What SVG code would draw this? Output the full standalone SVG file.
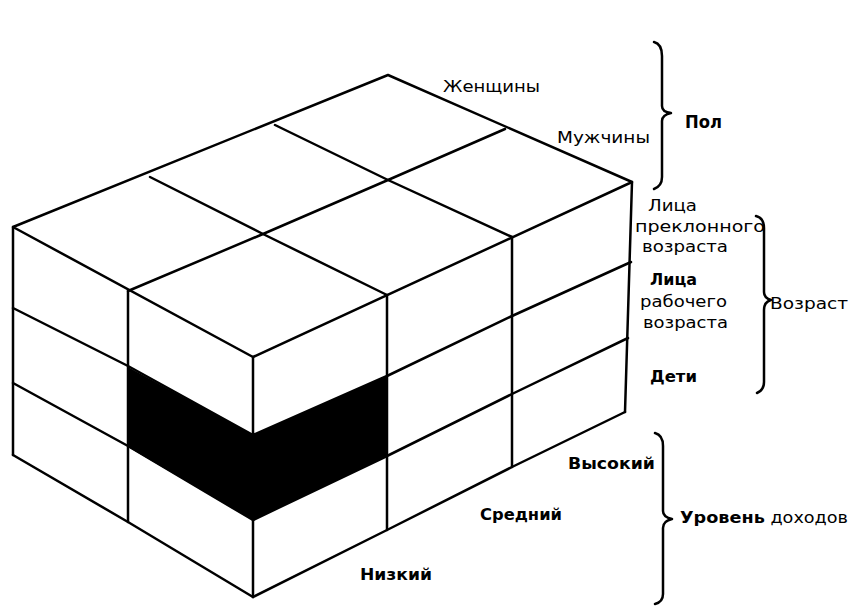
<svg xmlns="http://www.w3.org/2000/svg" width="849" height="606" viewBox="0 0 849 606">
<style>
.ln{fill:none;stroke:#000;stroke-width:2.5;stroke-linejoin:round;stroke-linecap:round}
.br{fill:none;stroke:#000;stroke-width:2.5;stroke-linejoin:round;stroke-linecap:round}
.t{font-family:"DejaVu Sans","Liberation Sans",sans-serif;font-size:15px;fill:#000}
.b{font-weight:bold}
</style>
<rect width="849" height="606" fill="#fff"/>
<g id="cube">
  <polygon points="128,367 253,435 387,376 387,456 253,520 128,447" fill="#000"/>
  <!-- top face -->
  <polygon class="ln" points="13,227 388,75 632,182 253,357"/>
  <polyline class="ln" points="150,177 263,234 387,295"/>
  <polyline class="ln" points="275,125 388,180 512,237"/>
  <polyline class="ln" points="128,291 263,234 388,180 505,129"/>
  <!-- front-left face -->
  <line class="ln" x1="13" y1="227" x2="13" y2="455"/>
  <line class="ln" x1="128" y1="291" x2="128" y2="522"/>
  <line class="ln" x1="253" y1="357" x2="253" y2="597"/>
  <polyline class="ln" points="13,308 128,366 253,435"/>
  <polyline class="ln" points="13,383 128,446 253,520"/>
  <polyline class="ln" points="13,455 128,522 253,597"/>
  <!-- front-right face -->
  <line class="ln" x1="387" y1="295" x2="387" y2="530"/>
  <line class="ln" x1="512" y1="237" x2="512" y2="467"/>
  <line class="ln" x1="632" y1="182" x2="625" y2="412"/>
  <polyline class="ln" points="253,435 387,376 512,316 631,262"/>
  <polyline class="ln" points="253,520 387,456 512,394 628,338"/>
  <polyline class="ln" points="253,597 387,530 512,467 625,412"/>
</g>
<g id="braces">
  <path id="brace-pol" class="br" d="M654,42 Q662,44 662,56 L662,106 Q662,112 671,113 Q662,115 662,121 L662,177 Q662,186 654,189"/>
  <path id="brace-age" class="br" d="M756,216 Q764,218 764,228 L764,292 Q764,298 771,300 Q764,302 764,310 L764,382 Q764,390 757,393"/>
  <path id="brace-income" class="br" d="M655,433 Q663,435 663,446 L663,511 Q663,517 672,519 Q663,521 663,528 L663,594 Q663,602 655,604"/>
</g>
<g id="labels">
  <text class="t" x="443" y="92" textLength="97" lengthAdjust="spacingAndGlyphs">Женщины</text>
  <text class="t" x="557" y="143" textLength="93" lengthAdjust="spacingAndGlyphs">Мужчины</text>
  <text class="t b" x="685" y="128" style="font-size:18px" textLength="37" lengthAdjust="spacingAndGlyphs">Пол</text>
  <text class="t" x="648" y="211" textLength="49" lengthAdjust="spacingAndGlyphs">Лица</text>
  <text class="t" x="635" y="232" textLength="130" lengthAdjust="spacingAndGlyphs">преклонного</text>
  <text class="t" x="642" y="252" textLength="86" lengthAdjust="spacingAndGlyphs">возраста</text>
  <text class="t b" x="650" y="285" textLength="47" lengthAdjust="spacingAndGlyphs">Лица</text>
  <text class="t" x="640" y="307" textLength="87" lengthAdjust="spacingAndGlyphs">рабочего</text>
  <text class="t" x="643" y="328" textLength="85" lengthAdjust="spacingAndGlyphs">возраста</text>
  <text class="t b" x="650" y="382" textLength="47" lengthAdjust="spacingAndGlyphs">Дети</text>
  <text class="t" x="770" y="309" textLength="78" lengthAdjust="spacingAndGlyphs">Возраст</text>
  <text class="t b" x="568" y="469" textLength="87" lengthAdjust="spacingAndGlyphs">Высокий</text>
  <text class="t b" x="480" y="520" textLength="82" lengthAdjust="spacingAndGlyphs">Средний</text>
  <text class="t b" x="360" y="580" textLength="72" lengthAdjust="spacingAndGlyphs">Низкий</text>
  <text class="t" x="680" y="523" textLength="168" lengthAdjust="spacingAndGlyphs"><tspan class="b">Уровень</tspan> доходов</text>
</g>
</svg>
